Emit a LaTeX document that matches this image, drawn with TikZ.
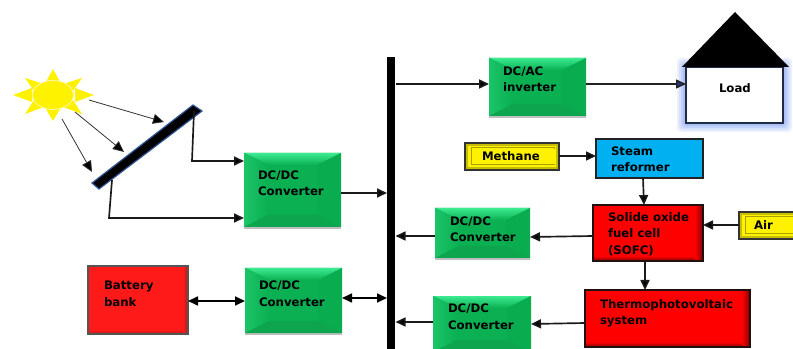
\documentclass[tikz,border=0pt]{standalone}
\usepackage{fontspec}
\setmainfont{DejaVu Sans}
\usetikzlibrary{arrows.meta,calc,shapes.geometric,shadows}
\newlength\px \setlength\px{0.75pt}
\definecolor{gface}{HTML}{0AB052}
\definecolor{gtop}{HTML}{3CEA90}
\definecolor{gleft}{HTML}{14B85A}
\definecolor{gright}{HTML}{0AAC50}
\definecolor{gbot}{HTML}{0DA64F}
\definecolor{redB}{HTML}{FF1A1A}
\definecolor{edgeA}{HTML}{201010}
\definecolor{edgeB}{HTML}{555555}
\definecolor{shadeA}{HTML}{800000}
\definecolor{shadeB}{HTML}{B01818}
\definecolor{ywedge}{HTML}{C8BE00}
\definecolor{yline}{HTML}{A8A000}
\definecolor{ydark}{HTML}{333333}
\definecolor{cyanbox}{HTML}{00B0F0}
\definecolor{dk}{HTML}{222222}
\definecolor{loadedge}{HTML}{1F2A44}
\definecolor{line}{HTML}{1A1A1A}
\definecolor{ray}{HTML}{333333}
\definecolor{sunedge}{HTML}{FFF8B0}
\definecolor{panel}{HTML}{2F5597}
\definecolor{glow}{HTML}{5B84F0}
\definecolor{tipblue}{HTML}{1F3A78}
\tikzset{
  boxbase/.style={anchor=north west,inner sep=0pt,outer sep=0pt},
  greenbox/.style={boxbase,fill=gface,drop shadow={shadow xshift=0pt,shadow yshift=-1.5pt,opacity=.25,fill=black},
    path picture={
      \coordinate (nw) at (path picture bounding box.north west);
      \coordinate (ne) at (path picture bounding box.north east);
      \coordinate (sw) at (path picture bounding box.south west);
      \coordinate (se) at (path picture bounding box.south east);
      \fill[top color=gtop,bottom color=gface] (nw) -- (ne) -- ($(ne)+(-24,12)$) -- ($(nw)+(24,12)$) -- cycle;
      \fill[left color=gtop!35!gface,right color=gface] (nw) -- ($(nw)+(24,12)$) -- ($(sw)+(24,-12)$) -- (sw) -- cycle;
      \fill[gright] (ne) -- ($(ne)+(-24,12)$) -- ($(se)+(-24,-12)$) -- (se) -- cycle;
      \fill[gbot] (sw) -- ($(sw)+(24,-12)$) -- ($(se)+(-24,-12)$) -- (se) -- cycle;
    }},
  redbox/.style={boxbase,fill=red,draw=edgeA,line width=1.05pt,
    path picture={
      \coordinate (ne) at (path picture bounding box.north east);
      \coordinate (sw) at (path picture bounding box.south west);
      \coordinate (se) at (path picture bounding box.south east);
      \fill[left color=red,right color=shadeA] ($(ne)+(-8,0)$) rectangle (se);
      \fill[top color=red,bottom color=shadeA] ($(sw)+(0,-5)$) rectangle ($(se)+(-8,0)$);
    }},
  batbox/.style={boxbase,fill=redB,draw=edgeB,line width=1.05pt,
    path picture={
      \coordinate (ne) at (path picture bounding box.north east);
      \coordinate (sw) at (path picture bounding box.south west);
      \coordinate (se) at (path picture bounding box.south east);
      \fill[left color=redB,right color=shadeB] ($(ne)+(-5,0)$) rectangle (se);
      \fill[top color=redB,bottom color=shadeB] ($(sw)+(0,-4)$) rectangle ($(se)+(-5,0)$);
    }},
  yellowbox/.style={boxbase,fill=yellow,draw=ydark,line width=1.2pt,
    path picture={
      \coordinate (a) at (path picture bounding box.north west);
      \coordinate (b) at (path picture bounding box.south east);
      \fill[ywedge] (a) rectangle (b);
      \fill[yellow] ($(a)+(3,3)$) rectangle ($(b)+(-3,-3)$);
      \draw[yline,line width=.75pt] ($(a)+(6,5)$) rectangle ($(b)+(-5,-5)$);
      \fill[yellow] ($(a)+(7,6)$) rectangle ($(b)+(-3,-6)$);
    }},
  bluebox/.style={boxbase,fill=cyanbox,draw=dk,line width=1.1pt},
  loadbox/.style={boxbase,fill=white,draw=loadedge,line width=1.1pt},
  conn/.style={line width=1.25pt,draw=line,-{Triangle[length=7.5pt,width=6.75pt,fill=black]}},
  bothway/.style={line width=1.25pt,draw=black,{Triangle[length=7.5pt,width=6.75pt,fill=black]}-{Triangle[length=7.5pt,width=6.75pt,fill=black]}},
  rayline/.style={line width=.6pt,draw=ray,-{Triangle[length=8.25pt,width=7.5pt,fill=black]}},
  rayspike/.style={fill=yellow,draw=none}
}
% \bx{style}{name}{x1}{y1}{x2}{y2}{left inset}{top inset}{text}
\newcommand\bx[9]{%
  \pgfmathsetmacro\bxW{#5-#3}\pgfmathsetmacro\bxH{#6-#4}%
  \node[#1] (#2) at (#3,#4) {\parbox[c][\bxH\px][t]{\bxW\px}{%
    \fontsize{8.8}{12.4}\selectfont\bfseries\baselineskip=16.5\px\relax
    \leftskip=#7\px\relax\rightskip=0pt plus 1fil\relax\parindent=0pt\relax
    \vspace*{#8\px}\rule{0pt}{11.5\px}\ignorespaces #9\par}};}
\begin{document}
\begin{tikzpicture}[x=0.75pt,y=-0.75pt]
\clip (0,0) rectangle (793,349);
\fill[white] (0,0) rectangle (793,349);
% sun
\fill[rayspike] (53,69) -- (46,82) -- (60,82) -- cycle;
\fill[rayspike] (53,121) -- (46,109) -- (60,109) -- cycle;
\fill[rayspike] (13,95) -- (32,88) -- (32,102) -- cycle;
\fill[rayspike] (94,95) -- (75,88) -- (75,102) -- cycle;
\fill[rayspike] (25,78) -- (44,84) -- (34,91) -- cycle;
\fill[rayspike] (82,78) -- (63,84) -- (73,91) -- cycle;
\fill[rayspike] (25,114) -- (44,107) -- (34,100) -- cycle;
\fill[rayspike] (82,114) -- (63,107) -- (73,100) -- cycle;
\node[ellipse,fill=yellow,draw=sunedge,line width=.6pt,minimum width=30.75pt,minimum height=21.75pt,inner sep=0pt] (sun) at (53,95) {};
% panel
\fill[black,draw=panel,line width=.9pt] (92,183) -- (193,105) -- (202,111) -- (99,189) -- cycle;
\coordinate (rayAs) at (89,100); \coordinate (rayAe) at (164,122);
\coordinate (rayBs) at (75,112); \coordinate (rayBe) at (124,152);
\coordinate (rayCs) at (62,119); \coordinate (rayCe) at (92,172);
\coordinate (pTop) at (194,111); \coordinate (pTopB) at (192,161);
\coordinate (pBot) at (112,180); \coordinate (pBotB) at (109,218);
% bus
\node[fill=black,anchor=north west,inner sep=0pt,minimum width=6pt,minimum height=220.5pt] (bus) at (387,57) {};
% glow
\foreach \g/\o in {9/.12,7/.14,5/.16,3/.2,1/.25}{
  \fill[glow,opacity=\o,rounded corners=3pt] (686-\g,67-\g) rectangle (783+\g,123+\g);
}
% boxes
\bx{greenbox}{inv}{489}{58}{586}{116}{14}{6}{DC/AC\\inverter}
\bx{greenbox}{cv1}{244}{153}{341}{227}{14}{15}{DC/DC\\Converter}
\bx{greenbox}{cv2}{435}{208}{530}{258}{15}{6}{DC/DC\\Converter}
\bx{greenbox}{cv3}{433}{296}{531}{352}{15}{5}{DC/DC\\Converter}
\bx{greenbox}{cvb}{245}{268}{342}{333}{14}{10}{DC/DC\\Converter}
\bx{redbox}{sofc}{593}{205}{703}{261}{15}{5}{Solide oxide\\fuel cell\\(SOFC)}
\bx{redbox}{tpv}{585}{290}{750}{347}{15}{7}{Thermophotovoltaic\\system}
\bx{batbox}{bat}{88}{266}{188}{334}{16}{12}{Battery\\bank}
\bx{yellowbox}{meth}{465}{143}{559}{170}{17}{6}{Methane}
\bx{yellowbox}{air}{739}{212}{810}{239}{15}{6}{Air}
\bx{bluebox}{steam}{596}{139}{703}{178}{15}{5}{Steam\\reformer}
\bx{loadbox}{load}{686}{67}{783}{123}{33}{14}{Load}
\fill[black] (682,67) -- (735,12) -- (789,67) -- cycle;
% connectors
\draw[rayline] (rayAs) -- (rayAe);
\draw[rayline] (rayBs) -- (rayBe);
\draw[rayline] (rayCs) -- (rayCe);
\draw[conn] (pTop) -- (pTopB) -- (cv1.west |- 0,161);
\draw[conn] (pBot) -- (pBotB) -- (cv1.west |- 0,218);
\draw[conn] (cv1.east |- 0,193) -- (bus.west |- 0,193);
\draw[conn] (bus.east |- 0,84) -- (inv.west |- 0,84);
\draw[line width=1.1pt,draw=dk,-{Triangle[length=7.5pt,width=6.75pt,fill=tipblue]}] (inv.east |- 0,84) -- (load.west |- 0,84);
\draw[conn] (steam.south -| 643,0) -- (sofc.north -| 644,0);
\draw[conn] (meth.east |- 0,156) -- (steam.west |- 0,156);
\draw[conn] (air.west |- 0,225) -- (sofc.east |- 0,225);
\draw[conn] (sofc.west |- 0,236) -- (cv2.east |- 0,237);
\draw[conn] (cv2.west |- 0,236) -- (bus.east |- 0,236);
\draw[conn] (sofc.south -| 645,0) -- (tpv.north -| 645,0);
\draw[conn] (tpv.west |- 0,323) -- (cv3.east |- 0,324);
\draw[conn] (cv3.west |- 0,322) -- (bus.east |- 0,322);
\draw[bothway] (bat.east |- 0,301) -- (cvb.west |- 0,301);
\draw[bothway] (cvb.east |- 0,298) -- (bus.west |- 0,298);
\end{tikzpicture}
\end{document}
